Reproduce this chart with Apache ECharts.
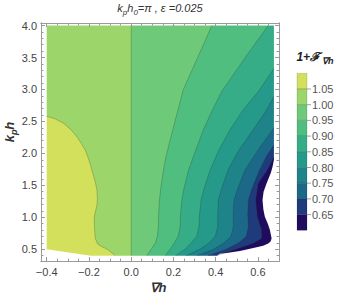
<!DOCTYPE html>
<html><head><meta charset="utf-8">
<script src="https://cdn.jsdelivr.net/npm/echarts@6/dist/echarts.min.js"></script>
<style>html,body{margin:0;padding:0;background:#fff}#c{width:342px;height:297px}</style>
</head><body><div id="c"></div>
<script>
// ---- data ----
const levelLabels = ['1.05','1.00','0.95','0.90','0.85','0.80','0.75','0.70','0.65'];
const bandColors = ['#d3e05c','#9cd66a','#6ec978','#50be7f','#37ad87','#259a8b','#1f838a','#1c6888','#1f3b7b','#200c5f'];
const xTicks = [-0.4,-0.2,0,0.2,0.4,0.6];
const yTicks = [0.5,1.0,1.5,2.0,2.5,3.0,3.5,4.0];
// contour lines [∇h, k_p h], from top to bottom
const c105 = [[-0.4,2.58],[-0.36,2.54],[-0.32,2.47],[-0.285,2.37],[-0.257,2.26],[-0.235,2.15],[-0.217,2.05],[-0.2,1.9],[-0.186,1.74],[-0.17,1.55],[-0.162,1.43],[-0.16,1.3],[-0.162,1.19],[-0.17,1.08],[-0.175,1.01],[-0.174,0.9],[-0.173,0.8],[-0.17,0.67],[-0.158,0.58],[-0.139,0.54],[-0.12,0.51],[-0.107,0.485],[-0.09,0.44],[-0.076,0.4]];
const c100 = [[0,4.0],[0,0.4]];
const c095 = [[0.382,4.0],[0.315,3.5],[0.247,3.0],[0.197,2.37],[0.165,1.95],[0.153,1.74],[0.142,1.5],[0.134,1.27],[0.13,1.05],[0.129,0.85],[0.124,0.7],[0.115,0.6],[0.099,0.52],[0.074,0.4]];
const c090 = [[0.649,4.0],[0.54,3.5],[0.429,2.97],[0.385,2.68],[0.342,2.37],[0.30,2.0],[0.272,1.74],[0.25,1.45],[0.24,1.27],[0.234,1.05],[0.232,0.85],[0.222,0.7],[0.205,0.6],[0.185,0.5],[0.16,0.4]];
const c085 = [[0.676,3.33],[0.605,2.98],[0.53,2.68],[0.468,2.37],[0.415,2.05],[0.374,1.74],[0.345,1.45],[0.331,1.27],[0.324,1.05],[0.321,0.85],[0.31,0.7],[0.285,0.6],[0.255,0.5],[0.21,0.4]];
const c080 = [[0.676,2.89],[0.641,2.68],[0.578,2.37],[0.51,2.05],[0.459,1.74],[0.428,1.45],[0.413,1.27],[0.41,1.05],[0.41,0.85],[0.398,0.7],[0.37,0.6],[0.325,0.5],[0.26,0.4]];
const c075 = [[0.676,2.4],[0.6,2.05],[0.539,1.74],[0.505,1.45],[0.487,1.27],[0.483,1.05],[0.484,0.85],[0.472,0.7],[0.44,0.6],[0.39,0.5],[0.312,0.4]];
const c070 = [[0.676,2.13],[0.64,1.95],[0.608,1.74],[0.572,1.45],[0.555,1.27],[0.552,1.05],[0.555,0.85],[0.545,0.7],[0.51,0.6],[0.45,0.5],[0.364,0.4]];
const c065 = [[0.676,1.94],[0.645,1.74],[0.602,1.53],[0.59,1.27],[0.598,1.01],[0.618,0.8],[0.618,0.67],[0.578,0.59],[0.515,0.52],[0.46,0.46],[0.405,0.4]];
// outer edge of the computed region (right notch + bottom), top to bottom then leftwards
const domainEdge = [[0.676,1.9],[0.67,1.8],[0.662,1.7],[0.641,1.53],[0.627,1.4],[0.622,1.27],[0.626,1.12],[0.633,1.01],[0.647,0.9],[0.657,0.8],[0.665,0.67],[0.66,0.62],[0.649,0.59],[0.625,0.555],[0.594,0.53],[0.515,0.473],[0.46,0.445],[0.42,0.43],[0.405,0.4],[-0.19,0.4],[-0.4,0.5]];
const domainX = [-0.4, 0.676];
const domainY = [0.4, 4.0];

// ---- layout ----
const XMIN=-0.427, XMAX=0.70, YMIN=0.316, YMAX=4.04;
const FONT = '"Liberation Sans", Arial, sans-serif';
const contoursRight = [c100,c095,c090,c085,c080,c075,c070,c065];
const FAR_L=-0.6, FAR_R=0.9, FAR_B=0.1, FAR_T=4.4;

const regions = [];
regions.push({pts:[[FAR_L,FAR_B],[FAR_R,FAR_B],[FAR_R,FAR_T],[FAR_L,FAR_T]], color:bandColors[1]});
regions.push({pts:[...c105,[FAR_L,FAR_B],[FAR_L,c105[0][1]]], color:bandColors[0]});
contoursRight.forEach((c,i)=>{
  const top = c[0][1] >= domainY[1] ? FAR_T : c[0][1];
  regions.push({pts:[[c[0][0], top], ...c, [c[c.length-1][0], FAR_B],[FAR_R,FAR_B],[FAR_R,top]], color:bandColors[i+2]});
});
// white masks outside the computed region
regions.push({pts:[[FAR_L,domainY[1]],[FAR_R,domainY[1]],[FAR_R,FAR_T],[FAR_L,FAR_T]], color:'#fff'});
regions.push({pts:[[FAR_L,FAR_B],[domainX[0],FAR_B],[domainX[0],FAR_T],[FAR_L,FAR_T]], color:'#fff'});
regions.push({pts:[[domainX[1],FAR_T],...domainEdge,[FAR_L,domainEdge[domainEdge.length-1][1]],[FAR_L,FAR_B],[FAR_R,FAR_B],[FAR_R,FAR_T]], color:'#fff'});

const xMinor=[], yMinor=[];
for (let k=-8;k<=13;k++){ if (k%4!==0) xMinor.push(+(k*0.05).toFixed(2)); }
for (let k=4;k<=40;k++){ if (k%5!==0) yMinor.push(+(k*0.1).toFixed(1)); }

const fmt = v => (v<0?'\u2212':'') + Math.abs(v).toFixed(1);
const axisCol = '#9a9a9a';
function xAx(pos, ticks, len, labels){
  return {type:'value', min:XMIN, max:XMAX, position:pos, z:10,
    axisLine:{show:true, onZero:false, lineStyle:{color:axisCol, width:1}},
    axisTick:{show:true, inside:true, length:len, customValues:ticks, lineStyle:{color:axisCol}},
    axisLabel:{show:labels, customValues:ticks, formatter:fmt, color:'#444', fontSize:11, fontFamily:FONT, margin:5},
    splitLine:{show:false}};
}
function yAx(pos, ticks, len, labels){
  return {type:'value', min:YMIN, max:YMAX, position:pos, z:10,
    axisLine:{show:true, onZero:false, lineStyle:{color:axisCol, width:1}},
    axisTick:{show:true, inside:true, length:len, customValues:ticks, lineStyle:{color:axisCol}},
    axisLabel:{show:labels, customValues:ticks, formatter:v=>v.toFixed(1), color:'#444', fontSize:11, fontFamily:FONT, margin:4},
    splitLine:{show:false}};
}

const series = [{
  type:'custom', xAxisIndex:0, yAxisIndex:0, clip:true, silent:true, z:1,
  data: regions.map((r,i)=>[0,1,i]),
  renderItem:(params, api)=>{
    const r = regions[params.dataIndex];
    return {type:'polygon', shape:{points:r.pts.map(p=>api.coord(p))}, style:{fill:r.color, stroke:null}};
  }
}];
[c105, ...contoursRight].forEach(c=>{
  series.push({type:'line', xAxisIndex:0, yAxisIndex:0, data:c, showSymbol:false, silent:true, z:3,
    lineStyle:{color:'rgba(30,40,30,0.35)', width:0.7}, animation:false});
});

// legend (colour bar) graphics
const LX=297, LY=73.3, LW=10, LH=15.7;
const graphics = [];
bandColors.forEach((col,i)=>{
  graphics.push({type:'rect', shape:{x:LX, y:LY+i*LH, width:LW, height:LH}, style:{fill:col, stroke:'rgba(0,0,0,0.25)', lineWidth:0.5}});
});
levelLabels.forEach((t,i)=>{
  const y = LY+(i+1)*LH;
  graphics.push({type:'line', shape:{x1:LX+LW, y1:y, x2:LX+LW+4, y2:y}, style:{stroke:'#888', lineWidth:0.8}});
  graphics.push({type:'text', x:LX+LW+5, y:y, style:{text:t, fontSize:11, fontFamily:FONT, fill:'#555', verticalAlign:'middle', align:'left'}});
});
graphics.push({type:'text', x:315, y:57, style:{
  text:'{a|1+\u2131}{b|\u2207h}', align:'center', verticalAlign:'middle', fontFamily:FONT,
  rich:{a:{fontSize:12, fontWeight:'bold', fontStyle:'italic', fontFamily:FONT, fill:'#222', lineHeight:16, verticalAlign:'middle'},
        b:{fontSize:9, fontWeight:'bold', fontStyle:'italic', fontFamily:FONT, fill:'#222', lineHeight:16, verticalAlign:'bottom', padding:[4,0,0,2]}}}});
// title
graphics.push({type:'text', x:160, y:8, style:{
  text:'{n|k}{s|p}{n|h}{s|0}{n|=\u03c0 , \u03b5 =0.025}', align:'center', verticalAlign:'middle', fontFamily:FONT,
  rich:{n:{fontSize:11, fontStyle:'italic', fontFamily:FONT, fill:'#333', lineHeight:16, verticalAlign:'middle'},
        s:{fontSize:8, fontStyle:'italic', fontFamily:FONT, fill:'#333', lineHeight:16, verticalAlign:'bottom', padding:[4,0,0,0]}}}});
// axis names
graphics.push({type:'text', x:158, y:287, style:{text:'\u2207h', fontSize:13, fontWeight:'bold', fontStyle:'italic', fontFamily:FONT, fill:'#333', align:'center', verticalAlign:'middle'}});
graphics.push({type:'text', x:9, y:132, rotation:Math.PI/2, style:{
  text:'{n|k}{s|p}{n|h}', align:'center', verticalAlign:'middle', fontFamily:FONT,
  rich:{n:{fontSize:13, fontWeight:'bold', fontStyle:'italic', fontFamily:FONT, fill:'#333', lineHeight:18, verticalAlign:'middle'},
        s:{fontSize:9, fontWeight:'bold', fontStyle:'italic', fontFamily:FONT, fill:'#333', lineHeight:18, verticalAlign:'bottom', padding:[5,0,0,0]}}}});

const chart = echarts.init(document.getElementById('c'), null, {renderer:'svg'});
chart.setOption({
  animation:false,
  backgroundColor:'#fff',
  grid:{left:41, right:63, top:23, bottom:36, containLabel:false},
  xAxis:[xAx('bottom',xTicks,4,true), xAx('top',xTicks,4,false), xAx('bottom',xMinor,2.5,false), xAx('top',xMinor,2.5,false)],
  yAxis:[yAx('left',yTicks,4,true), yAx('right',yTicks,4,false), yAx('left',yMinor,2.5,false), yAx('right',yMinor,2.5,false)],
  series: series,
  graphic: graphics
});
</script></body></html>
